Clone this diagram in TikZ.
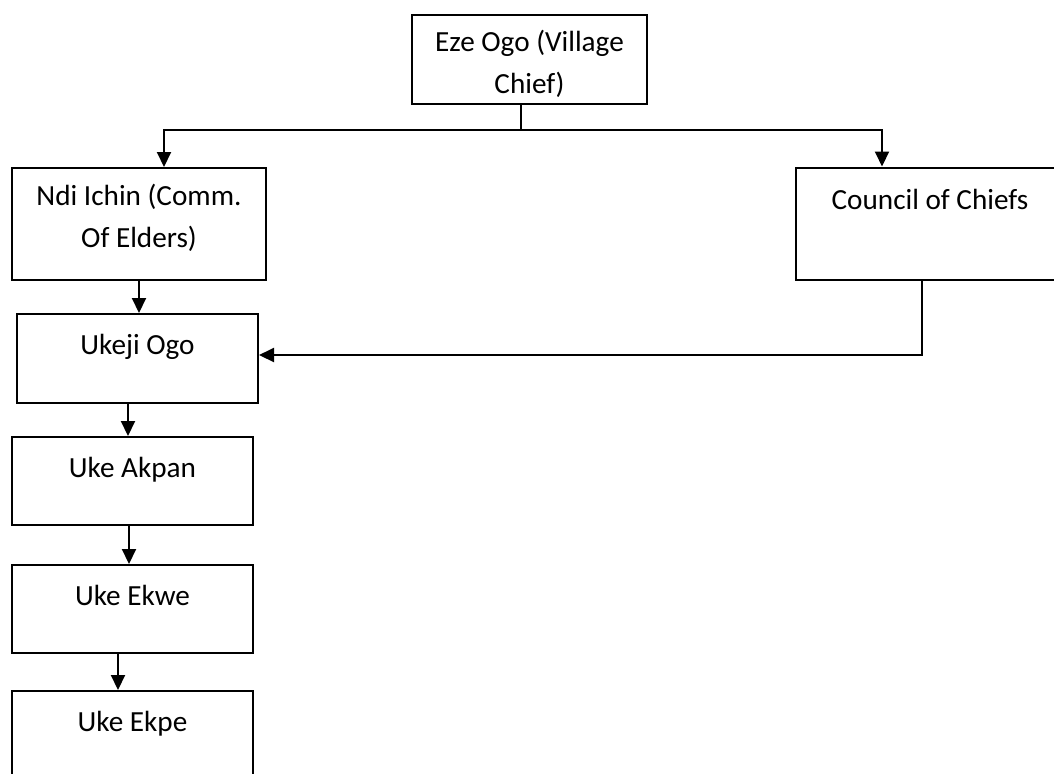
\documentclass[tikz,border=0pt]{standalone}
\usepackage{fontspec}
\setmainfont{Carlito}
\usetikzlibrary{arrows.meta}
\usetikzlibrary{calc}

\begin{document}
\begin{tikzpicture}[x=0.5pt,y=-0.5pt,
		box/.style={draw,black,line width=1pt,inner sep=0pt,minimum width=120.5pt,minimum height=44pt},
		lbl/.style={font=\fontsize{14.6}{21}\selectfont,align=center,inner sep=0pt,text height=10pt,text depth=3pt},
		lbltwo/.style={font=\fontsize{14.6}{21}\selectfont,align=center,inner sep=0pt,anchor=north},
		link/.style={black,line width=1pt},
		arr/.style={link,-{Triangle[length=7.5pt,width=7pt]}}]
			\clip (0,0) rectangle (1054,773);

			\node[box,minimum width=117.5pt,minimum height=44.5pt] (eze) at (529.5,59.5) {};
			\node[box,minimum width=127pt,minimum height=56pt] (ndi) at (139,224) {};
			\node[box,minimum width=134pt,minimum height=56pt] (council) at (930,223.5) {};
			\node[box,minimum height=44.5pt] (ukeji) at (137.5,358.5) {};
			\node[box] (akpan) at (132.5,481) {};
			\node[box] (ekwe) at (132.5,609) {};
			\node[box] (ekpe) at (132.5,735) {};

			\node[lbltwo] (ezetxt) at ([yshift=-8pt]eze.north) {Eze Ogo (Village\\Chief)};
			\node[lbltwo] (nditxt) at ([yshift=-8.5pt]ndi.north) {Ndi Ichin (Comm.\\Of Elders)};
			\node[lbl] (counciltxt) at ([yshift=-18pt]council.north) {Council of Chiefs};
			\node[lbl] (ukejitxt) at ([yshift=-17pt]ukeji.north) {Ukeji Ogo};
			\node[lbl] (akpantxt) at ([yshift=-17pt]akpan.north) {Uke Akpan};
			\node[lbl] (ekwetxt) at ([yshift=-17pt]ekwe.north) {Uke Ekwe};
			\node[lbl] (ekpetxt) at ([yshift=-17pt]ekpe.north) {Uke Ekpe};

			\coordinate (bus) at (521,130);
			\draw[link] (eze.south -| bus) -- (bus);
			\draw[arr] (bus) -| ($(ndi.north)+(25,0)$);
			\draw[arr] (bus) -| ($(council.north)+(-48,0)$);
			\draw[arr] (ndi.south) -- (ndi.south |- ukeji.north);
			\draw[arr] ($(council.south)+(-8,0)$) |- ($(ukeji.east)+(0,-3.5)$);
			\draw[arr] ($(ukeji.south)+(-9.5,0)$) -- ($(akpan.north)+(-4.5,0)$);
			\draw[arr] ($(akpan.south)+(-3.5,0)$) -- ($(ekwe.north)+(-3.5,0)$);
			\draw[arr] ($(ekwe.south)+(-14.5,0)$) -- ($(ekpe.north)+(-14.5,0)$);
		\end{tikzpicture}
\end{document}
